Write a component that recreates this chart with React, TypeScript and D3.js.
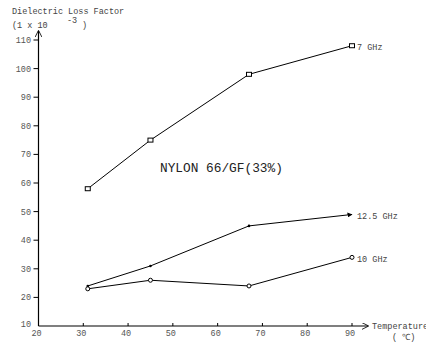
import { useEffect, useRef } from 'react';
import * as d3 from 'd3';

// Temperatures (°C) and loss factor values (x 10^-3)
const temps = [31, 45, 67, 90];
const series7 = [58, 75, 98, 108];
const series125 = [24, 31, 45, 49];
const series10 = [23, 26, 24, 34];

const xTicks = [20, 30, 40, 50, 60, 70, 80, 90];
const yTicks = [10, 20, 30, 40, 50, 60, 70, 80, 90, 100, 110];

const FONT = '"Liberation Mono", "DejaVu Sans Mono", monospace';

const App = () => {
  const svgRef = useRef<SVGSVGElement>(null);

  useEffect(() => {
    if (!svgRef.current) return;
    const svg = d3.select(svgRef.current);
    svg.selectAll('*').remove();

    const x = d3.scaleLinear().domain([20, 90]).range([38.5, 352]);
    const y = d3.scaleLinear().domain([10, 110]).range([326, 40]);

    const g = svg.append('g');

    // arrow markers for axes and the 12.5 GHz line
    const defs = svg.append('defs');
    defs.append('marker')
      .attr('id', 'arrow')
      .attr('viewBox', '0 0 10 10')
      .attr('refX', 9)
      .attr('refY', 5)
      .attr('markerWidth', 7)
      .attr('markerHeight', 7)
      .attr('markerUnits', 'userSpaceOnUse')
      .attr('orient', 'auto')
      .append('path')
      .attr('d', 'M0,0 L10,5 L0,10')
      .attr('fill', 'none')
      .attr('stroke', '#000')
      .attr('stroke-width', 1.2);
    defs.append('marker')
      .attr('id', 'arrowFill')
      .attr('viewBox', '0 0 10 10')
      .attr('refX', 9)
      .attr('refY', 5)
      .attr('markerWidth', 5)
      .attr('markerHeight', 5)
      .attr('markerUnits', 'userSpaceOnUse')
      .attr('orient', 'auto')
      .append('path')
      .attr('d', 'M0,0 L10,5 L0,10 Z')
      .attr('fill', '#000');

    // axes
    g.append('line')
      .attr('x1', x(20)).attr('y1', y(10))
      .attr('x2', 368).attr('y2', y(10))
      .attr('stroke', '#000').attr('stroke-width', 1.2)
      .attr('marker-end', 'url(#arrow)');
    g.append('line')
      .attr('x1', x(20)).attr('y1', y(10))
      .attr('x2', x(20)).attr('y2', 31)
      .attr('stroke', '#000').attr('stroke-width', 1.2)
      .attr('marker-end', 'url(#arrow)');

    // x ticks
    xTicks.forEach(t => {
      if (t > 20) {
        g.append('line')
          .attr('x1', x(t)).attr('x2', x(t))
          .attr('y1', y(10)).attr('y2', y(10) - 3)
          .attr('stroke', '#000');
      }
      g.append('text')
        .attr('x', x(t) - 2)
        .attr('y', 336)
        .attr('text-anchor', 'middle')
        .style('font-family', FONT)
        .style('font-size', '8.5px')
        .style('fill', '#555')
        .text(t);
    });

    // y ticks
    yTicks.forEach(t => {
      if (t > 10) {
        g.append('line')
          .attr('x1', x(20) - 5).attr('x2', x(20))
          .attr('y1', y(t)).attr('y2', y(t))
          .attr('stroke', '#000');
      }
      g.append('text')
        .attr('x', 31)
        .attr('y', y(t) - (t === 10 ? 2 : 0))
        .attr('dy', '0.35em')
        .attr('text-anchor', 'end')
        .style('font-family', FONT)
        .style('font-size', '8.5px')
        .style('fill', '#555')
        .text(t);
    });

    // axis titles
    const small = (sel: d3.Selection<SVGTextElement, unknown, null, undefined>) =>
      sel.style('font-family', FONT).style('font-size', '8.5px').style('fill', '#444');

    small(g.append('text').attr('x', 12).attr('y', 14).text('Dielectric Loss Factor'));
    small(g.append('text').attr('x', 12).attr('y', 28).text('(1 x 10'));
    small(g.append('text').attr('x', 67).attr('y', 23).style('font-size', '5px').text('-3'));
    small(g.append('text').attr('x', 82).attr('y', 28).text(')'));
    small(g.append('text').attr('x', 372).attr('y', 329).text('Temperature'));
    small(g.append('text').attr('x', 392).attr('y', 340).text('( ℃)'));

    const line = d3.line<number>()
      .x((d, i) => x(temps[i]))
      .y(d => y(d));

    // 7 GHz - square markers
    g.append('path')
      .attr('d', line(series7))
      .attr('fill', 'none')
      .attr('stroke', '#000')
      .attr('stroke-width', 1);
    series7.forEach((v, i) => {
      g.append('rect')
        .attr('x', x(temps[i]) - 2.5)
        .attr('y', y(v) - 2)
        .attr('width', 5)
        .attr('height', 4)
        .attr('fill', '#fff')
        .attr('stroke', '#000')
        .attr('stroke-width', 1);
    });

    // 12.5 GHz - small dots, arrow at end
    g.append('path')
      .attr('d', line(series125))
      .attr('fill', 'none')
      .attr('stroke', '#000')
      .attr('stroke-width', 1)
      .attr('marker-end', 'url(#arrowFill)');
    series125.slice(0, -1).forEach((v, i) => {
      g.append('circle')
        .attr('cx', x(temps[i]))
        .attr('cy', y(v))
        .attr('r', 1.3)
        .attr('fill', '#000');
    });

    // 10 GHz - open circle markers
    g.append('path')
      .attr('d', line(series10))
      .attr('fill', 'none')
      .attr('stroke', '#000')
      .attr('stroke-width', 1);
    series10.forEach((v, i) => {
      g.append('circle')
        .attr('cx', x(temps[i]))
        .attr('cy', y(v))
        .attr('r', 2)
        .attr('fill', '#fff')
        .attr('stroke', '#000')
        .attr('stroke-width', 1);
    });

    // series labels
    const lbl = (xv: number, yv: number, t: string) =>
      small(g.append('text')
        .attr('x', x(xv) + 5)
        .attr('y', y(yv))
        .attr('dy', '0.35em')
        .text(t));
    lbl(90, series7[3] - 0.5, '7 GHz');
    lbl(90, series125[3] - 0.5, '12.5 GHz');
    lbl(90, series10[3] - 0.7, '10 GHz');

    g.append('text')
      .attr('x', 160)
      .attr('y', 172)
      .style('font-family', FONT)
      .style('font-size', '12.8px')
      .style('fill', '#222')
      .text('NYLON 66/GF(33%)');
  }, []);

  return (
    <div style={{ position: 'absolute', left: 0, top: 0 }}>
      <svg ref={svgRef} width={426} height={345} style={{ display: 'block', background: '#fff' }} />
    </div>
  );
};

export default App;
